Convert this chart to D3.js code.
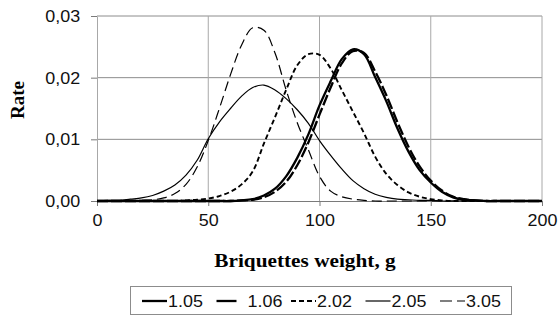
<!DOCTYPE html>
<html>
<head>
<meta charset="utf-8">
<script src="https://cdn.jsdelivr.net/npm/d3@7"></script>
<style>
  body { margin: 0; background: #fff; }
  svg { display: block; }
</style>
</head>
<body>
<div id="chart"></div>
<script>
// weights (g) at which the curves are read
const weights = [0, 5, 10, 15, 20, 25, 30, 35, 40, 45, 50, 55, 60, 65, 70, 75, 80, 85, 90, 95, 100,
                 105, 110, 115, 120, 125, 130, 135, 140, 145, 150, 155, 160, 165, 170, 175, 180, 185, 190, 195, 200];

const s105 = [0, 0, 0, 0, 0, 0, 0, 0, 0, 0, 0, 0, 0, 0.0001, 0.0003, 0.0009, 0.0020, 0.0040, 0.0070, 0.0108, 0.0155,
              0.0194, 0.0230, 0.0246, 0.0238, 0.0201, 0.0162, 0.0118, 0.0080, 0.0050, 0.0030, 0.0015, 0.0006, 0.0002, 0.0001, 0, 0, 0, 0, 0, 0];
const s106 = [0, 0, 0, 0, 0, 0, 0, 0, 0, 0, 0, 0, 0, 0.0001, 0.0002, 0.0006, 0.0015, 0.0031, 0.0058, 0.0095, 0.0140,
              0.0184, 0.0223, 0.0243, 0.0240, 0.0210, 0.0172, 0.0128, 0.0088, 0.0056, 0.0033, 0.0017, 0.0007, 0.0003, 0.0001, 0, 0, 0, 0, 0, 0];
const s202 = [0, 0, 0, 0, 0, 0, 0, 0, 0.0001, 0.0002, 0.0004, 0.0008, 0.0015, 0.0027, 0.0048, 0.0093, 0.0136, 0.0180, 0.0220, 0.0238, 0.0237,
              0.0215, 0.0180, 0.0145, 0.0110, 0.0072, 0.0044, 0.0026, 0.0014, 0.0007, 0.0003, 0.0001, 0, 0, 0, 0, 0, 0, 0, 0, 0];
const s205 = [0, 0.0001, 0.0001, 0.0003, 0.0005, 0.0009, 0.0016, 0.0026, 0.0042, 0.0066, 0.0101, 0.0128, 0.0150, 0.0170, 0.0184, 0.0188, 0.0180, 0.0166, 0.0148, 0.0126, 0.0098,
              0.0074, 0.0052, 0.0033, 0.0020, 0.0011, 0.0006, 0.0003, 0.0002, 0.0001, 0.0001, 0, 0, 0, 0, 0, 0, 0, 0, 0, 0];
const s305 = [0, 0, 0, 0, 0.0001, 0.0002, 0.0005, 0.0012, 0.0027, 0.0055, 0.0098, 0.0150, 0.0205, 0.0253, 0.0281, 0.0277, 0.0240, 0.0180, 0.0127, 0.0083, 0.0040,
              0.0016, 0.0007, 0.0003, 0.0001, 0, 0, 0, 0, 0, 0, 0, 0, 0, 0, 0, 0, 0, 0, 0, 0];

const seriesNames = ["1.05", "1.06", "2.02", "2.05", "3.05"];
const seriesValues = [s105, s106, s202, s205, s305];

const xTicks = [0, 50, 100, 150, 200];
const yTicks = [0, 0.01, 0.02, 0.03];

// line look per series: width, plot dash, legend dash
const looks = {
  "1.05": {w: 2.3, dash: null, legendDash: null},
  "1.06": {w: 2.3, dash: "11,3", legendDash: "20,10"},
  "2.02": {w: 1.9, dash: "5,3", legendDash: "5,3"},
  "2.05": {w: 1.2, dash: null, legendDash: null},
  "3.05": {w: 1.2, dash: "10,5", legendDash: "12,5"}
};

const width = 559;
const height = 316;
const margin = {left: 97, right: 17, top: 16, bottom: 115};
const stretch = 1.12;   // glyphs in the picture are a bit wide

const svg = d3.select("#chart")
  .append("svg")
  .attr("width", width)
  .attr("height", height);

const xScale = d3.scaleLinear()
  .domain([0, 200])
  .range([margin.left, width - margin.right]);

const yScale = d3.scaleLinear()
  .domain([0, 0.03])
  .range([height - margin.bottom, margin.top]);

// gridlines
svg.append("g")
  .selectAll("line")
  .data(yTicks.slice(1))
  .enter()
  .append("line")
  .attr("x1", xScale(0))
  .attr("x2", xScale(200))
  .attr("y1", d => yScale(d))
  .attr("y2", d => yScale(d))
  .attr("stroke", "#8c8c8c")
  .attr("stroke-width", 1);

svg.append("g")
  .selectAll("line")
  .data(xTicks.slice(1))
  .enter()
  .append("line")
  .attr("x1", d => xScale(d))
  .attr("x2", d => xScale(d))
  .attr("y1", yScale(0))
  .attr("y2", yScale(0.03))
  .attr("stroke", "#a8a8a8")
  .attr("stroke-width", 1);

// axes
const fmt = d => d3.format(".2f")(d).replace(".", ",");

const xAxis = svg.append("g")
  .attr("transform", "translate(0," + yScale(0) + ")")
  .call(d3.axisBottom(xScale).tickValues(xTicks).tickSize(5).tickPadding(9).tickSizeOuter(0));

const yAxis = svg.append("g")
  .attr("transform", "translate(" + xScale(0) + ",0)")
  .call(d3.axisLeft(yScale).tickValues(yTicks).tickFormat(fmt).tickSize(6).tickPadding(9).tickSizeOuter(0));

xAxis.select(".domain").attr("stroke", "#7a7a7a").attr("d", "M" + (xScale(0) - 6) + ",0.5H" + xScale(200));
yAxis.select(".domain").attr("stroke", "#a8a8a8");
xAxis.selectAll(".tick line").attr("stroke", "#7a7a7a");
yAxis.selectAll(".tick line").attr("stroke", "#7a7a7a");

[xAxis, yAxis].forEach(ax => {
  ax.selectAll("text")
    .style("font-family", "'Liberation Sans', Arial, sans-serif")
    .style("font-size", "16px")
    .attr("fill", "#111");
});
xAxis.selectAll(".tick text")
  .attr("transform", "scale(" + stretch + ",1)");
yAxis.selectAll(".tick text")
  .attr("dy", "0.35em")
  .attr("transform", "scale(" + stretch + ",1)");

// curves
const line = d3.line()
  .curve(d3.curveCatmullRom.alpha(0.5))
  .x((d, i) => xScale(weights[i]))
  .y(d => yScale(d));

svg.append("g")
  .selectAll("path")
  .data(seriesNames)
  .enter()
  .append("path")
  .attr("fill", "none")
  .attr("stroke", "#000")
  .attr("stroke-width", d => looks[d].w)
  .attr("stroke-dasharray", d => looks[d].dash)
  .attr("stroke-linejoin", "round")
  .attr("d", (d, i) => line(seriesValues[i]));

// titles
svg.append("text")
  .attr("transform", "translate(305,267) scale(" + stretch + ",1)")
  .attr("text-anchor", "middle")
  .style("font-family", "'Liberation Serif', 'Times New Roman', serif")
  .style("font-weight", "bold")
  .style("font-size", "19px")
  .text("Briquettes weight, g");

svg.append("text")
  .attr("transform", "translate(24,100) rotate(-90)")
  .attr("text-anchor", "middle")
  .style("font-family", "'Liberation Serif', 'Times New Roman', serif")
  .style("font-weight", "bold")
  .style("font-size", "19px")
  .text("Rate");

// legend
const legend = svg.append("g");
legend.append("rect")
  .attr("x", 130.5)
  .attr("y", 286.5)
  .attr("width", 381)
  .attr("height", 28)
  .attr("fill", "#fff")
  .attr("stroke", "#8c8c8c");

const legendX = d3.scalePoint()
  .domain(seriesNames)
  .range([142, 440]);

const item = legend.selectAll(".item")
  .data(seriesNames)
  .enter()
  .append("g")
  .attr("class", "item")
  .attr("transform", d => "translate(" + legendX(d) + ",301)");

item.append("line")
  .attr("x1", 0)
  .attr("x2", d => d === "1.06" ? 28 : 25)
  .attr("stroke", "#000")
  .attr("stroke-width", d => looks[d].w)
  .attr("stroke-dasharray", d => looks[d].legendDash);

item.append("text")
  .attr("transform", d => "translate(" + (d === "1.06" ? 31 : 26) + ",0) scale(" + stretch + ",1)")
  .attr("dy", "0.35em")
  .style("font-family", "'Liberation Sans', Arial, sans-serif")
  .style("font-size", "16px")
  .attr("fill", "#111")
  .text(d => d);
</script>
</body>
</html>
